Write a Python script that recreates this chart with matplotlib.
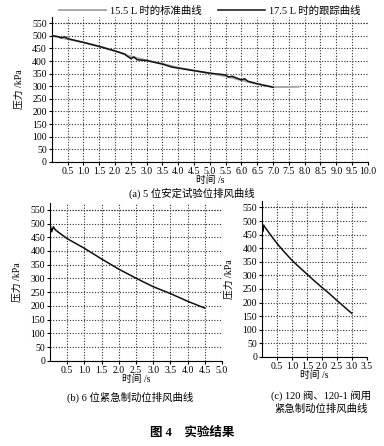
import matplotlib
matplotlib.use("Agg")
import matplotlib.pyplot as plt
import numpy as np

plt.rcParams['font.family'] = ['Liberation Serif', 'Noto Sans CJK SC']
plt.rcParams['font.size'] = 7

# (a) 5 位安定试验位排风曲线
t_std = [0, 0.5, 1.0, 1.5, 2.0, 2.5, 3.0, 3.5, 4.0, 4.5, 5.0, 5.5, 6.0, 6.5, 7.0, 7.4, 7.8]
p_std = [500, 487, 474, 458, 440, 418, 403, 389, 374, 362, 351, 340, 324, 309, 297, 297, 298]

t_track = [0, 0.1, 0.2, 0.3, 0.4, 0.5, 0.6, 1.0, 1.5, 2.0, 2.3, 2.4, 2.5, 2.6, 2.7, 3.0,
           3.5, 3.7, 3.8, 4.0, 4.5, 5.0, 5.5, 5.6, 5.7, 6.0, 6.1, 6.2, 6.5, 7.0]
p_track = [500, 499, 497, 492, 496, 489, 486, 474, 458, 440, 428, 418, 410, 416, 405, 402,
           388, 380, 376, 372, 362, 352, 345, 336, 340, 325, 330, 320, 310, 296]

# (b) 6 位紧急制动位排风曲线
t_b = [0, 0.05, 0.1, 0.15, 0.25, 0.5, 1.0, 1.5, 2.0, 2.5, 3.0, 3.5, 4.0, 4.5]
p_b = [500, 470, 488, 478, 468, 445, 410, 371, 334, 301, 270, 245, 217, 192]

# (c) 120 阀、120-1 阀用紧急制动位排风曲线
t_c = [0, 0.03, 0.06, 0.1, 0.15, 0.25, 0.5, 0.75, 1.0, 1.25, 1.5, 1.75, 2.0, 2.25, 2.5, 2.75, 3.0]
p_c = [500, 462, 485, 478, 470, 455, 418, 386, 356, 330, 305, 280, 256, 233, 208, 184, 160]

y_ticks = np.arange(0, 551, 50)


def style_axes(ax, xmax):
    ax.set_xlim(0, xmax)
    ax.set_ylim(0, 575)
    ax.set_yticks(y_ticks)
    xt = np.arange(0.5, xmax + 0.01, 0.5)
    ax.set_xticks(xt)
    ax.set_xticklabels([f"{v:.1f}" for v in xt])
    ax.grid(True, linestyle=(0, (1, 1.5)), color="#333333", linewidth=0.8)
    ax.axhline(550, linestyle=(0, (1, 1.5)), color="#333333", linewidth=0.8)
    ax.spines['top'].set_visible(False)
    ax.spines['right'].set_visible(False)
    ax.tick_params(length=2, pad=1.5, labelsize=7)
    ax.set_ylabel("压力 /kPa", fontsize=7, labelpad=6)
    ax.set_xlabel("时间 /s", fontsize=7, labelpad=0)


fig = plt.figure(figsize=(3.84, 4.46), dpi=100)

ax_a = fig.add_axes([0.135, 0.637, 0.823, 0.325])
l1, = ax_a.plot(t_std, p_std, color="#aaaaaa", linewidth=1.4)
l2, = ax_a.plot(t_track, p_track, color="#111111", linewidth=1.1)
style_axes(ax_a, 10.0)
ax_a.legend([l1, l2], ["15.5 L 时的标准曲线", "17.5 L 时的跟踪曲线"], ncol=2,
            loc="lower center", bbox_to_anchor=(0.5, 0.98), frameon=False,
            handlelength=4.5, columnspacing=1.5, handletextpad=0.4, fontsize=7.5,
            borderaxespad=0)

ax_b = fig.add_axes([0.130, 0.191, 0.448, 0.354])
ax_b.plot(t_b, p_b, color="#111111", linewidth=1.1)
style_axes(ax_b, 5.0)

ax_c = fig.add_axes([0.682, 0.200, 0.273, 0.350])
ax_c.plot(t_c, p_c, color="#111111", linewidth=1.1)
style_axes(ax_c, 3.5)

fig.text(0.50, 1 - 193 / 446, "(a) 5 位安定试验位排风曲线", ha="center", va="center", fontsize=7.5)
fig.text(0.34, 1 - 397 / 446, "(b) 6 位紧急制动位排风曲线", ha="center", va="center", fontsize=7.5)
fig.text(0.835, 1 - 402 / 446, "(c) 120 阀、120-1 阀用\n紧急制动位排风曲线", ha="center",
         va="center", fontsize=7.5, linespacing=1.3)
fig.text(0.50, 1 - 433 / 446, "图 4    实验结果", ha="center", va="center", fontsize=9,
         fontweight="bold")

fig.savefig("out.png", dpi=100)
